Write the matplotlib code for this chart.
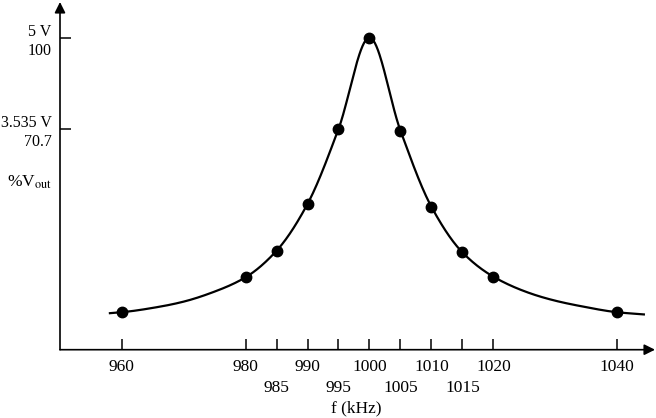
import numpy as np
import matplotlib.pyplot as plt

plt.rcParams['font.family'] = ['Liberation Serif', 'DejaVu Serif']
plt.rcParams['mathtext.fontset'] = 'stix'

# measured points (kHz, % of Vout)
freq = [960, 980, 985, 990, 995, 1000, 1005, 1010, 1015, 1020, 1040]
vout = [12.0, 23.2, 31.7, 46.7, 70.7, 100, 70.2, 45.8, 31.2, 23.4, 12.0]

# the drawn curve
curve_f = [958.1, 960, 966.2, 970, 974.3, 980, 985, 990, 995, 1000,
           1005, 1010, 1015, 1020, 1025.9, 1030, 1034, 1040, 1044.3]
curve_v = [11.7, 12.0, 13.8, 15.4, 18.1, 23.2, 31.7, 46.7, 70.7, 100,
           70.2, 45.8, 31.2, 23.4, 18.1, 15.7, 14.0, 12.0, 11.3]

major_ticks = [960, 980, 990, 1000, 1010, 1020, 1040]
minor_ticks = [985, 995, 1005, 1015]
y_ticks = [70.7, 100]
y_labels = ['3.535 V\n70.7', '5 V\n100']


def smooth(xs, ys, n=40):
    # monotone cubic through the read points
    xs = np.asarray(xs, float)
    ys = np.asarray(ys, float)
    h = np.diff(xs)
    d = np.diff(ys) / h
    m = np.zeros_like(ys)
    m[0], m[-1] = d[0], d[-1]
    for k in range(1, len(xs) - 1):
        if d[k - 1] * d[k] > 0:
            w1 = 2 * h[k] + h[k - 1]
            w2 = h[k] + 2 * h[k - 1]
            m[k] = (w1 + w2) / (w1 / d[k - 1] + w2 / d[k])
    out_x, out_y = [], []
    for i in range(len(xs) - 1):
        t = np.linspace(0, 1, n, endpoint=False)
        h00 = 2 * t**3 - 3 * t**2 + 1
        h10 = t**3 - 2 * t**2 + t
        h01 = -2 * t**3 + 3 * t**2
        h11 = t**3 - t**2
        out_x.append(xs[i] + t * h[i])
        out_y.append(h00 * ys[i] + h10 * h[i] * m[i] + h01 * ys[i + 1] + h11 * h[i] * m[i + 1])
    out_x.append([xs[-1]])
    out_y.append([ys[-1]])
    return np.concatenate(out_x), np.concatenate(out_y)


fig = plt.figure(figsize=(6.56, 4.18), dpi=100)
ax = fig.add_axes([60 / 656, (418 - 349.7) / 418, 595 / 656, 347.7 / 418])
ax.set_xlim(950.04, 1046.1)
ax.set_ylim(0, 111.4)

cx, cy = smooth(curve_f, curve_v)
ax.plot(cx, cy, color='black', lw=1.6)
ax.plot(freq, vout, 'o', color='black', markersize=7.5)

for s in ax.spines.values():
    s.set_visible(False)
ax.annotate('', xy=(1, 0), xytext=(0, 0), xycoords='axes fraction',
            arrowprops=dict(arrowstyle='-|>', color='black', lw=1.2,
                            mutation_scale=16, shrinkA=0, shrinkB=0))
ax.annotate('', xy=(0, 1), xytext=(0, 0), xycoords='axes fraction',
            arrowprops=dict(arrowstyle='-|>', color='black', lw=1.2,
                            mutation_scale=16, shrinkA=0, shrinkB=0))

ax.set_xticks(major_ticks)
ax.set_xticklabels([str(v) for v in major_ticks])
ax.set_xticks(minor_ticks, minor=True)
ax.set_xticklabels([str(v) for v in minor_ticks], minor=True)
ax.tick_params(axis='x', which='both', direction='in', length=8, width=1.1,
               labelsize=12.5, color='black')
ax.tick_params(axis='x', which='major', pad=7)
ax.tick_params(axis='x', which='minor', pad=21.5)

ax.set_yticks(y_ticks)
ax.set_yticklabels(y_labels, ha='right', multialignment='right', linespacing=1.25)
ax.tick_params(axis='y', direction='in', length=8, width=1.1, labelsize=11.5, pad=6)

ax.text(-8 / 595, (349.7 - 182) / 347.7, r'%V$_{\mathrm{out}}$',
        transform=ax.transAxes, ha='right', va='center', fontsize=12.5)
ax.set_xlabel('f (kHz)', fontsize=12.5)
ax.xaxis.set_label_coords((356 - 60) / 595, -(400 - 349.7) / 347.7)

fig.savefig('out.png', dpi=100)
